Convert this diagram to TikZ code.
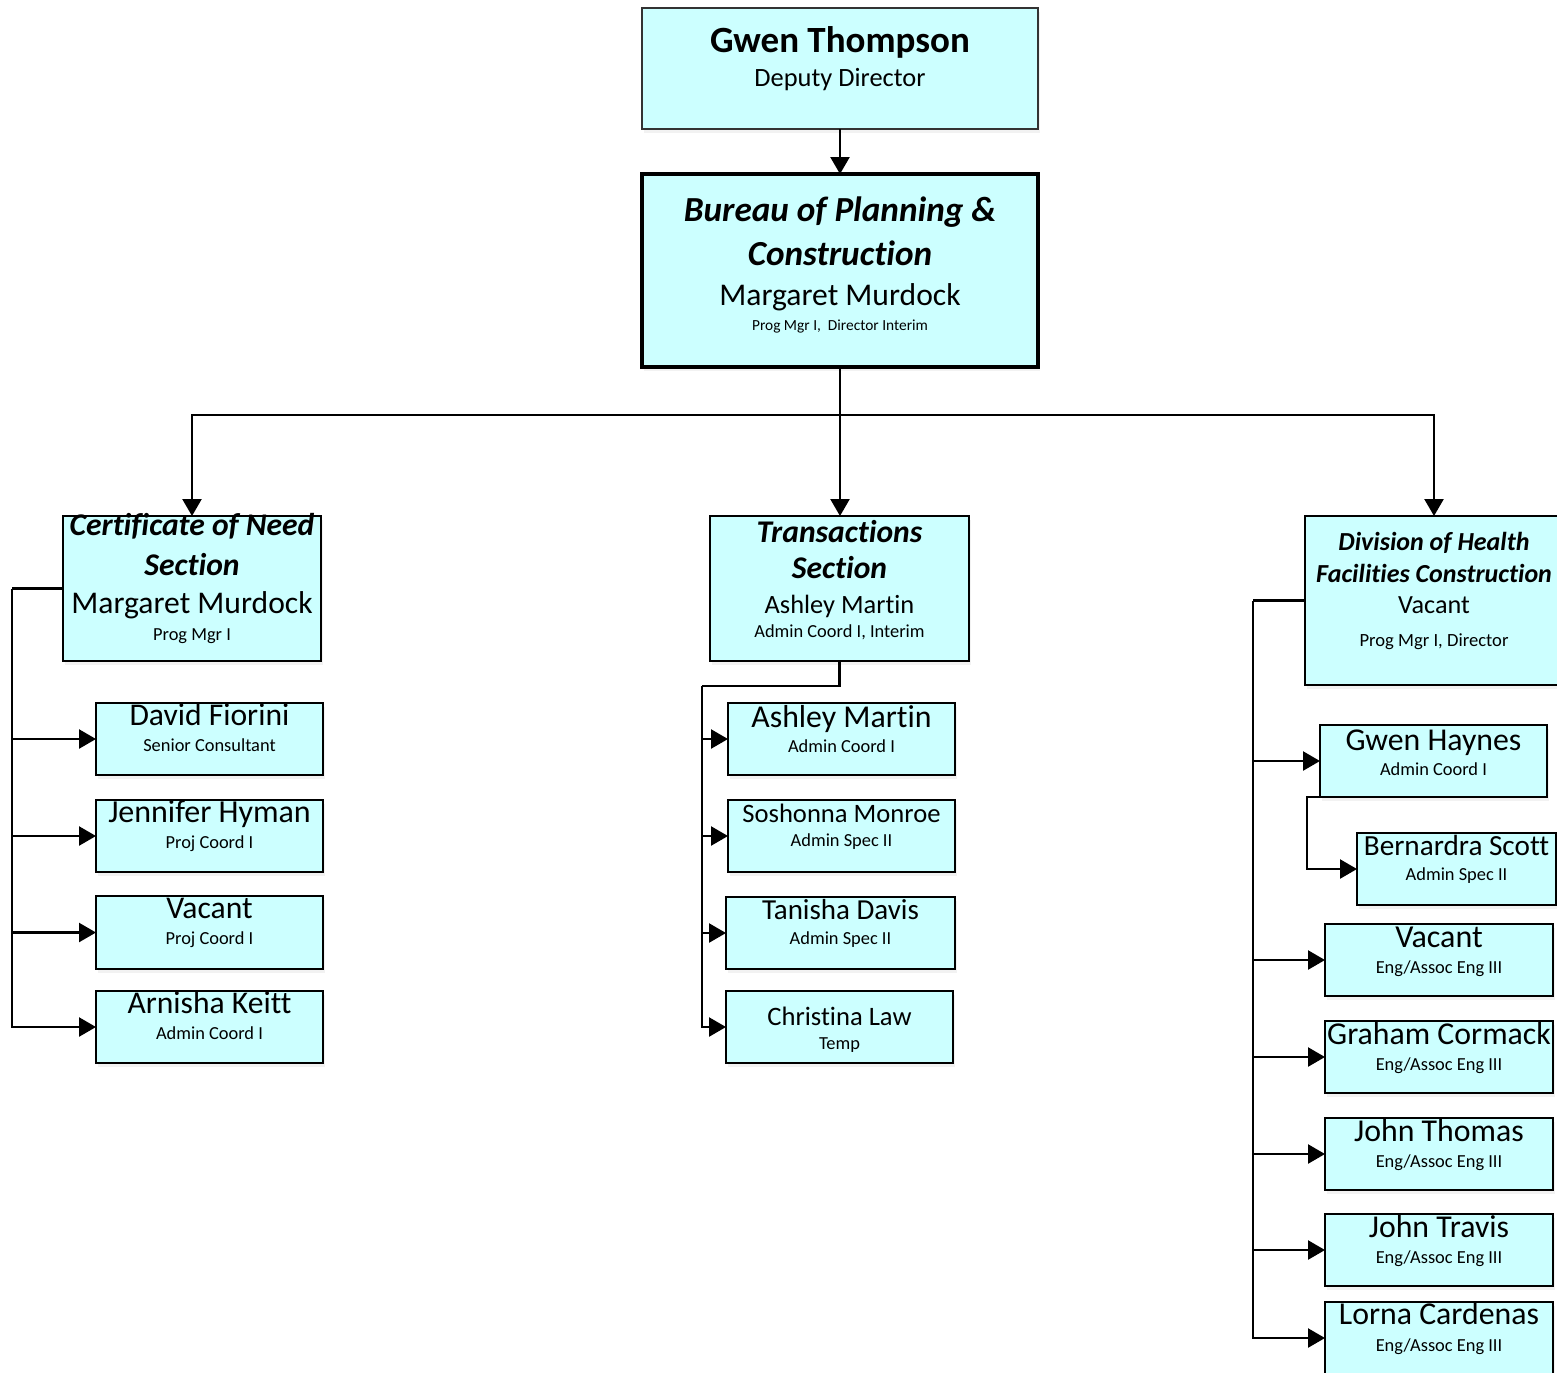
\documentclass[tikz,border=0pt]{standalone}
\usepackage{fontspec}
\setmainfont{Carlito}[RawFeature={-liga;-clig;-dlig}]
\usetikzlibrary{arrows.meta,shadows}
\definecolor{boxfill}{RGB}{204,255,255}
\newcommand\fs[1]{\fontsize{#1}{#1}\selectfont}
\tikzset{
  box/.style={draw=black,line width=1.2pt,fill=boxfill,inner sep=0pt,outer sep=0pt,
    drop shadow={shadow xshift=1pt,shadow yshift=-2pt,fill=black!10}},
  txt/.style={anchor=base,inner sep=0pt,outer sep=0pt},
  conn/.style={line width=1.2pt},
  arr/.style={conn,-{Triangle[length=8.5pt,width=9.5pt]}},
}
% box from (x1,y1) to (x2,y2) in pixel units
\newcommand\pbox[6][]{\pgfmathsetmacro\bw{(#5-#3)*0.5}\pgfmathsetmacro\bh{(#6-#4)*0.5}%
  \node[box,#1,minimum width=\bw pt,minimum height=\bh pt,anchor=north west] (#2) at (#3,#4) {};}
% text line: name, box, baseline offset from top (px), font, text
\newcommand\tl[5]{\node[txt,font=#4] (#1) at ([yshift=-#3*0.5pt]#2.north) {#5};}
\def\dya{23}\def\dyb{49}
% child box: name x1 y1 x2 y2 namesize Name Sub
\newcommand\kid[8]{\pbox{#1}{#2}{#3}{#4}{#5}%
  \tl{#1-n}{#1}{\dya}{\fs{#6}}{#7}%
  \tl{#1-s}{#1}{\dyb}{\fs{9.2}}{#8}}
\begin{document}
\begin{tikzpicture}[x=0.5pt,y=-0.5pt]
\useasboundingbox (0,0) rectangle (1557,1372);
\clip (0,0) rectangle (1557,1372);

% top boxes
\pbox[line width=0.7pt,draw=black!80]{gwen}{642}{8}{1038}{129}
\tl{gwen-n}{gwen}{44}{\fs{18.5}\bfseries}{Gwen Thompson}
\tl{gwen-s}{gwen}{78}{\fs{13.2}}{Deputy Director}

\pbox[line width=1.6pt]{bureau}{642}{174}{1038}{367}
\tl{bureau-a}{bureau}{47}{\fs{17.6}\bfseries\itshape}{Bureau of Planning \&}
\tl{bureau-b}{bureau}{91}{\fs{17.6}\bfseries\itshape}{Construction}
\tl{bureau-n}{bureau}{131}{\fs{15.8}}{Margaret Murdock}
\tl{bureau-s}{bureau}{156}{\fs{7.7}}{Prog Mgr I,\ \ Director Interim}

% section boxes
\pbox{con}{63}{516}{321}{661}
\tl{con-a}{con}{19}{\fs{15.8}\bfseries\itshape}{Certificate of Need}
\tl{con-b}{con}{59}{\fs{15.8}\bfseries\itshape}{Section}
\tl{con-n}{con}{97}{\fs{15.8}}{Margaret Murdock}
\tl{con-s}{con}{124}{\fs{9.2}}{Prog Mgr I}

\pbox{trans}{710}{516}{969}{661}
\tl{trans-a}{trans}{26}{\fs{15.8}\bfseries\itshape}{Transactions}
\tl{trans-b}{trans}{62}{\fs{15.8}\bfseries\itshape}{Section}
\tl{trans-n}{trans}{97}{\fs{13.2}}{Ashley Martin}
\tl{trans-s}{trans}{121}{\fs{9.2}}{Admin Coord I, Interim}

\pbox{dhfc}{1305}{516}{1563}{685}
\tl{dhfc-a}{dhfc}{34}{\fs{13}\bfseries\itshape}{Division of Health}
\tl{dhfc-b}{dhfc}{66}{\fs{13}\bfseries\itshape}{Facilities Construction}
\tl{dhfc-n}{dhfc}{97}{\fs{13.1}}{Vacant}
\tl{dhfc-s}{dhfc}{130}{\fs{9.3}}{Prog Mgr I, Director}

% left children
\def\dya{22}\def\dyb{48}
\kid{david}{96}{703}{323}{775}{15.8}{David Fiorini}{Senior Consultant}
\kid{jennifer}{96}{800}{323}{872}{16}{Jennifer Hyman}{Proj Coord I}
\kid{vacl}{96}{896}{323}{969}{15.8}{Vacant}{Proj Coord I}
\kid{arnisha}{96}{991}{323}{1063}{15.8}{Arnisha Keitt}{Admin Coord I}

% center children
\def\dya{24}\def\dyb{49}
\kid{ashley}{728}{703}{955}{775}{15.9}{Ashley Martin}{Admin Coord I}
\def\dya{22}\def\dyb{46}
\kid{soshonna}{728}{800}{955}{872}{13.3}{Soshonna Monroe}{Admin Spec II}
\def\dya{22}\def\dyb{47}
\kid{tanisha}{726}{897}{955}{969}{14.5}{Tanisha Davis}{Admin Spec II}
\def\dya{34}\def\dyb{58}
\kid{law}{726}{991}{953}{1063}{13.3}{Christina Law}{Temp}

% right children
\def\dya{25}\def\dyb{50}
\kid{haynes}{1320}{725}{1547}{797}{15.9}{Gwen Haynes}{Admin Coord I}
\def\dya{22}\def\dyb{47}
\kid{scott}{1357}{833}{1556}{905}{14.6}{Bernardra Scott}{Admin Spec II}
\def\dya{23}\def\dyb{49}
\kid{vacr}{1325}{924}{1553}{996}{16}{Vacant}{Eng/Assoc Eng III}
\kid{graham}{1325}{1021}{1553}{1093}{15.9}{Graham Cormack}{Eng/Assoc Eng III}
\kid{thomas}{1325}{1118}{1553}{1190}{15.9}{John Thomas}{Eng/Assoc Eng III}
\kid{travis}{1325}{1214}{1553}{1286}{15.9}{John Travis}{Eng/Assoc Eng III}
\def\dya{22}\def\dyb{49}
\kid{lorna}{1325}{1302}{1553}{1374}{15.9}{Lorna Cardenas}{Eng/Assoc Eng III}

% connectors
\draw[arr] (gwen.south) -- (bureau.north);
\draw[conn] (bureau.south) -- ++(0,48) coordinate (hub);
\draw[arr] (hub) -| (con.north);
\draw[arr] (hub) -| (dhfc.north);
\draw[arr] (hub) -- (hub |- trans.north);

\coordinate (lbus) at (12,588.5);
\draw[conn] (con.west) -- (lbus);
\draw[arr] (lbus) |- (arnisha.west);
\foreach \k in {david,jennifer,vacl} \draw[arr] (lbus |- \k.west) -- (\k.west);

\coordinate (cbus) at (702,686);
\draw[conn] (trans.south) |- (cbus);
\draw[arr] (cbus) |- (law.west);
\foreach \k in {ashley,soshonna,tanisha} \draw[arr] (cbus |- \k.west) -- (\k.west);

\coordinate (rbus) at (1253,600.5);
\draw[conn] (dhfc.west) -- (rbus);
\draw[arr] (rbus) |- (lorna.west);
\foreach \k in {haynes,vacr,graham,thomas,travis} \draw[arr] (rbus |- \k.west) -- (\k.west);

\draw[arr] (haynes.south west) -- ++(-13,0) |- (scott.west);
\end{tikzpicture}
\end{document}
